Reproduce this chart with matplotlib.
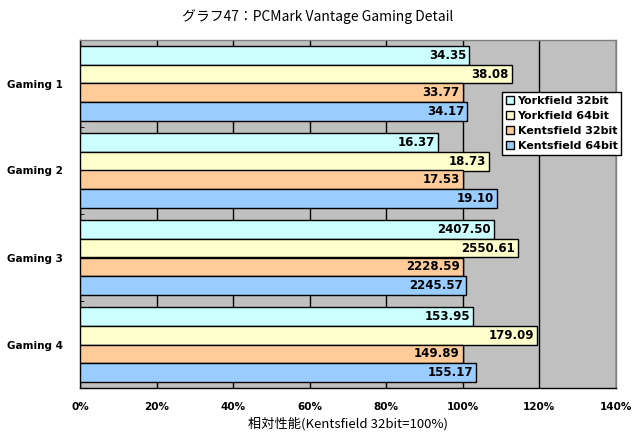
import matplotlib
matplotlib.use("Agg")
import matplotlib.pyplot as plt
import numpy as np

plt.rcParams['font.family'] = ['Noto Sans CJK JP', 'DejaVu Sans']

categories = ["Gaming 1", "Gaming 2", "Gaming 3", "Gaming 4"]
series_names = ["Yorkfield 32bit", "Yorkfield 64bit", "Kentsfield 32bit", "Kentsfield 64bit"]
yorkfield32 = [34.35, 16.37, 2407.50, 153.95]
yorkfield64 = [38.08, 18.73, 2550.61, 179.09]
kentsfield32 = [33.77, 17.53, 2228.59, 149.89]
kentsfield64 = [34.17, 19.10, 2245.57, 155.17]
colors = ["#ccffff", "#ffffcc", "#ffcc99", "#99ccff"]
xticks = [0, 20, 40, 60, 80, 100, 120, 140]

series = [yorkfield32, yorkfield64, kentsfield32, kentsfield64]
base = np.array(kentsfield32)

fig = plt.figure(figsize=(6.35, 4.48), dpi=100)
ax = fig.add_axes([80/635, 1-388/448, 536/635, 348/448])
ax.set_facecolor("#c0c0c0")

h = 0.218
ycenter = np.arange(len(categories))
for i, (s, c, name) in enumerate(zip(series, colors, series_names)):
    vals = np.array(s)
    pct = vals / base * 100
    ypos = ycenter - 1.5*h + i*h
    ax.barh(ypos, pct, height=h, color=c, edgecolor="black", linewidth=1.0, label=name, zorder=3)
    for y, p, v in zip(ypos, pct, vals):
        ax.text(p - 0.8, y, f"{v:.2f}", ha="right", va="center", fontsize=8.5,
                fontweight="bold", family="DejaVu Sans", zorder=4)

ax.set_xlim(0, 140)
ax.set_ylim(3.5, -0.5)
ax.set_xticks(xticks)
ax.set_xticklabels([f"{t}%" for t in xticks], fontsize=7.5, fontweight="bold", family="DejaVu Sans")
ax.tick_params(axis="x", length=0, pad=10)
ax.set_yticks(ycenter)
ax.set_yticklabels(categories, fontsize=7.5, fontweight="bold", family="DejaVu Sans")
ax.tick_params(axis="y", length=0, pad=12)
ax.set_yticks(np.arange(-0.5, 3.6, 1), minor=True)
ax.tick_params(axis="y", which="minor", length=3, direction="in", color="black")
ax.xaxis.grid(True, color="black", linewidth=1.0, zorder=0)
ax.set_axisbelow(True)
for sp in ["left", "bottom"]:
    ax.spines[sp].set_color("black")
    ax.spines[sp].set_linewidth(1.0)
for sp in ["top", "right"]:
    ax.spines[sp].set_color("#808080")
    ax.spines[sp].set_linewidth(1.0)

ax.set_xlabel("相対性能(Kentsfield 32bit=100%)", fontsize=9.5, labelpad=4)
fig.text(0.5, 1-17/448, "グラフ47：PCMark Vantage Gaming Detail", ha="center", va="center",
         fontsize=10)

leg = ax.legend(loc="upper left", bbox_to_anchor=((502-80)/536, (388-92)/348),
                prop={"weight": "bold", "size": 8, "family": "DejaVu Sans"},
                frameon=True, fancybox=False, edgecolor="black", framealpha=1,
                handlelength=0.75, handleheight=0.75, handletextpad=0.3, borderpad=0.35,
                labelspacing=0.45, borderaxespad=0)
leg.get_frame().set_linewidth(1.0)
leg.set_zorder(5)

fig.savefig("out.png", dpi=100, facecolor="white")
